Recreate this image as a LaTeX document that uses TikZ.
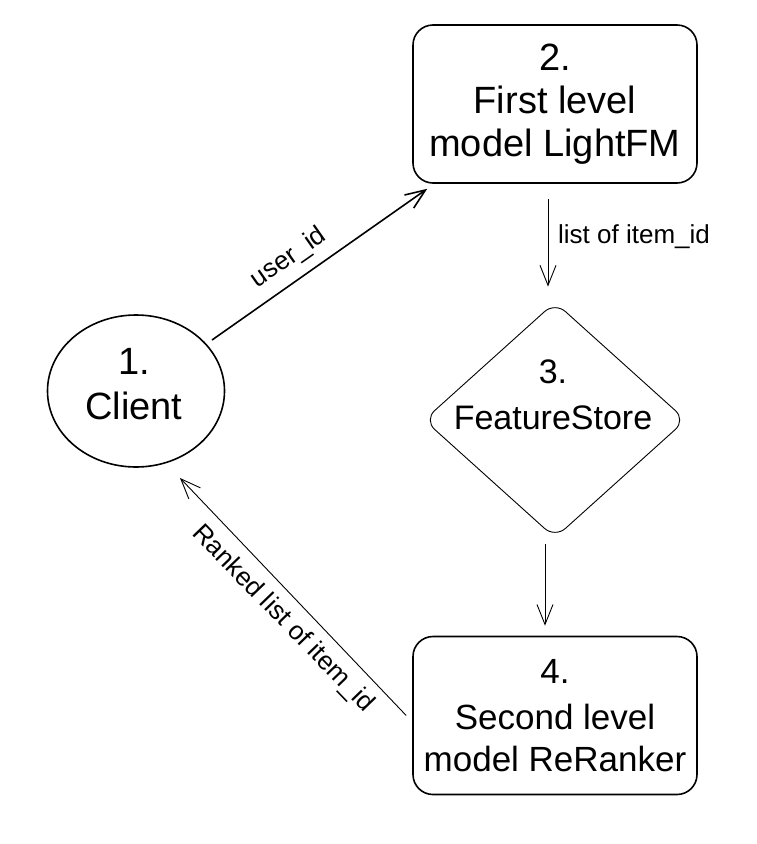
\documentclass[tikz,border=0pt]{standalone}
\usepackage{fontspec}
\setmainfont{Liberation Sans}
\usetikzlibrary{shapes.geometric,arrows.meta}
\begin{document}
\begin{tikzpicture}[x=1pt,y=-1pt,
  box/.style={draw, line width=1.6pt, rounded corners=20pt, minimum width=284pt,
    minimum height=158pt, inner sep=0pt, align=center},
  clientshape/.style={draw, ellipse, line width=1.6pt, minimum width=177pt,
    minimum height=152pt, inner sep=0pt},
  storeshape/.style={draw, diamond, line width=0.9pt, rounded corners=14pt,
    minimum width=262pt, minimum height=236pt, inner sep=0pt},
  bigtxt/.style={align=center, inner sep=0pt},
  lbl/.style={inner sep=0pt, font=\fontsize{26}{30}\selectfont},
  arr/.style={-{Straight Barb[length=20pt,width=16pt]}, line width=0.9pt},
  thickarr/.style={arr, line width=1.6pt}
]
\useasboundingbox[fill=white] (0,0) rectangle (756,844);

% shapes
\node[box, font=\fontsize{38}{43.3}\selectfont] (box2) at (555,104)
  {2.\\First level\\model LightFM};
\node[box, font=\fontsize{35}{41.5}\selectfont] (box4) at (555,715.5)
  {4.\\[4.5pt]Second level\\model ReRanker};
\node[clientshape] (client) at (136,391) {};
\node[storeshape] (fs) at (555,420) {};

% texts of client and feature store
\node[bigtxt, font=\fontsize{38}{45}\selectfont] (clienttext) at (134,384) {1.\\Client};
\node[bigtxt, font=\fontsize{34}{46}\selectfont] (fstext) at (553,395) {3.\\FeatureStore};

% connectors
\draw[thickarr] ([shift={(76,-51)}]client.center) -- ([shift={(15,5)}]box2.south west);
\draw[arr] ([shift={(-7,15)}]box2.south) -- ([shift={(-7,-15)}]fs.north);
\draw[arr] ([shift={(-10,6)}]fs.south) -- ([shift={(-10,-10)}]box4.north);
\draw[arr] ([shift={(-6,0)}]box4.west) -- ([shift={(44,87)}]client.center);

% labels
\node[lbl, rotate=35] (luser) at (289,258) {user\_id};
\node[lbl, anchor=base west] (llist) at (558,243) {list of item\_id};
\node[lbl, rotate=-46] (lranked) at (283,619) {Ranked list of item\_id};
\end{tikzpicture}
\end{document}
